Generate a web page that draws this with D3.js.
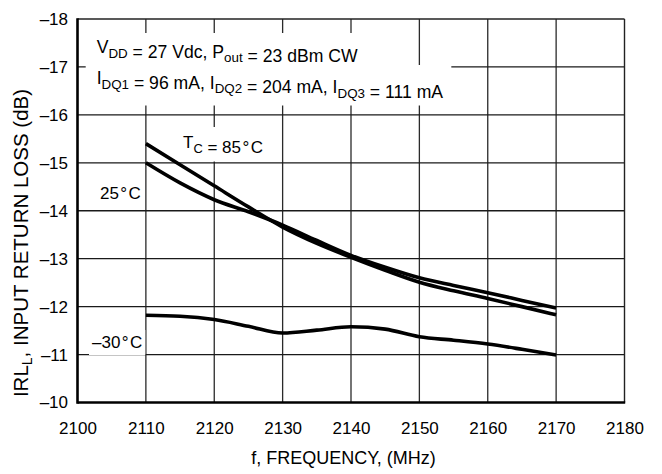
<!DOCTYPE html>
<html>
<head>
<meta charset="utf-8">
<script src="https://cdn.jsdelivr.net/npm/d3@7"></script>
<style>
  body { margin: 0; background: #fff; }
  text { font-family: "Liberation Sans", Arial, sans-serif; fill: #000; }
</style>
</head>
<body>
<div id="chart-area"></div>
<script>
// frequencies (MHz) read every 5 MHz
const freq = [2110, 2115, 2120, 2125, 2130, 2135, 2140, 2145, 2150, 2155, 2160, 2165, 2170];
// input return loss (dB)
const irl85 = [-15.40, -14.96, -14.52, -14.08, -13.66, -13.32, -13.03, -12.76, -12.51, -12.33, -12.17, -12.00, -11.83];
const irl25 = [-15.00, -14.58, -14.23, -13.98, -13.70, -13.38, -13.07, -12.82, -12.60, -12.44, -12.29, -12.13, -11.97];
const irlM30 = [-11.82, -11.80, -11.73, -11.59, -11.45, -11.51, -11.58, -11.53, -11.37, -11.30, -11.22, -11.11, -10.99];

const xTicks = [2100, 2110, 2120, 2130, 2140, 2150, 2160, 2170, 2180];
const yTicks = [-18, -17, -16, -15, -14, -13, -12, -11, -10];

const W = 662, H = 474;
const margin = { left: 77.5, right: 37.5, top: 19, bottom: 71.5 };
const width = W - margin.left - margin.right;
const height = H - margin.top - margin.bottom;

const svg = d3.select("#chart-area")
    .append("svg")
    .attr("width", W)
    .attr("height", H);

const g = svg.append("g")
    .attr("transform", "translate(" + margin.left + "," + margin.top + ")");

const x = d3.scaleLinear().domain([2100, 2180]).range([0, width]);
const y = d3.scaleLinear().domain([-18, -10]).range([0, height]);

// grid
g.append("g").selectAll("line")
    .data(xTicks.slice(1, -1))
    .enter().append("line")
    .attr("x1", d => x(d)).attr("x2", d => x(d))
    .attr("y1", 0).attr("y2", height)
    .attr("stroke", "#2a2a2a").attr("stroke-width", 1.3);

g.append("g").selectAll("line")
    .data(yTicks.slice(1, -1))
    .enter().append("line")
    .attr("x1", 0).attr("x2", width)
    .attr("y1", d => y(d)).attr("y2", d => y(d))
    .attr("stroke", "#1a1a1a").attr("stroke-width", 1.3);

// frame: thin top/right, heavy left/bottom
g.append("line").attr("x1", 0).attr("x2", width).attr("y1", 0).attr("y2", 0)
    .attr("stroke", "#222").attr("stroke-width", 1.4);
g.append("line").attr("x1", width).attr("x2", width).attr("y1", 0).attr("y2", height)
    .attr("stroke", "#222").attr("stroke-width", 1.4);

// annotation labels with white backing
function label(parent, px, py, size, parts, pad) {
    const t = parent.append("text")
        .attr("x", px).attr("y", py)
        .attr("font-size", size);
    parts.forEach(p => {
        if (p.sub) {
            t.append("tspan").attr("dy", 4.5).attr("font-size", size * 0.76).text(p.s);
            t.append("tspan").attr("dy", -4.5).text("");
        } else {
            t.append("tspan").text(p.s);
        }
    });
    const bb = t.node().getBBox();
    parent.insert("rect", () => t.node())
        .attr("x", bb.x - pad[0]).attr("y", bb.y - pad[1])
        .attr("width", bb.width + pad[0] + pad[2])
        .attr("height", bb.height + pad[1] + pad[3])
        .attr("fill", "#fff");
    return t;
}

const ann = g.append("g");
label(ann, 96.7 - margin.left, 53 - margin.top, 17.6, [
    { s: "V" }, { s: "DD", sub: true }, { s: " = 27 Vdc, P" }, { s: "out", sub: true }, { s: " = 23 dBm CW" }
], [10, 4, 8, 2]);
label(ann, 96.7 - margin.left, 84 - margin.top, 17.6, [
    { s: "I" }, { s: "DQ1", sub: true }, { s: " = 96 mA, I" }, { s: "DQ2", sub: true },
    { s: " = 204 mA, I" }, { s: "DQ3", sub: true }, { s: " = 111 mA" }
], [11, 3, 8, 4]);
label(ann, 183 - margin.left, 148 - margin.top, 17, [
    { s: "T" }, { s: "C", sub: true }, { s: " = 85\u200a°\u200aC" }
], [8, 6, 8, 5]);
label(ann, 100 - margin.left, 199 - margin.top, 17, [{ s: "25\u200a°\u200aC" }], [3, 3, 3, 3]);
label(ann, 92 - margin.left, 348 - margin.top, 17, [{ s: "–30\u200a°\u200aC" }], [3, 3, 3, 3]);

// curves
const line = d3.line()
    .x(d => x(d[0]))
    .y(d => y(d[1]))
    .curve(d3.curveMonotoneX);

[irl85, irl25, irlM30].forEach(series => {
    g.append("path")
        .datum(freq.map((f, i) => [f, series[i]]))
        .attr("d", line)
        .attr("fill", "none")
        .attr("stroke", "#000")
        .attr("stroke-width", 3.6);
});

// axes
const fmt = d => String(d).replace("-", "–");

const xAxis = g.append("g")
    .attr("transform", "translate(0," + height + ")")
    .call(d3.axisBottom(x).tickValues(xTicks).tickSize(0).tickPadding(19).tickFormat(d3.format("d")));
xAxis.select(".domain").remove();
xAxis.selectAll("text").attr("font-size", 17).attr("font-family", null);

const yAxis = g.append("g")
    .call(d3.axisLeft(y).tickValues(yTicks).tickSize(0).tickPadding(9.5).tickFormat(fmt));
yAxis.select(".domain").remove();
yAxis.selectAll("text").attr("font-size", 17).attr("font-family", null);

g.append("line").attr("x1", 0).attr("x2", 0).attr("y1", -0.7).attr("y2", height + 1.3)
    .attr("stroke", "#000").attr("stroke-width", 2.6);
g.append("line").attr("x1", 0).attr("x2", width + 0.7).attr("y1", height).attr("y2", height)
    .attr("stroke", "#000").attr("stroke-width", 2.6);

// axis titles
g.append("text")
    .attr("x", 343.5 - margin.left)
    .attr("y", 464 - margin.top)
    .attr("text-anchor", "middle")
    .attr("font-size", 18)
    .text("f, FREQUENCY, (MHz)");

const yt = g.append("text")
    .attr("transform", "translate(" + (28 - margin.left) + "," + (243 - margin.top) + ") rotate(-90)")
    .attr("text-anchor", "middle")
    .attr("font-size", 20.5);
yt.append("tspan").text("IRL");
yt.append("tspan").attr("dy", 4).attr("font-size", 14).text("L");
yt.append("tspan").attr("dy", -4).text(", INPUT RETURN LOSS (dB)");
</script>
</body>
</html>
